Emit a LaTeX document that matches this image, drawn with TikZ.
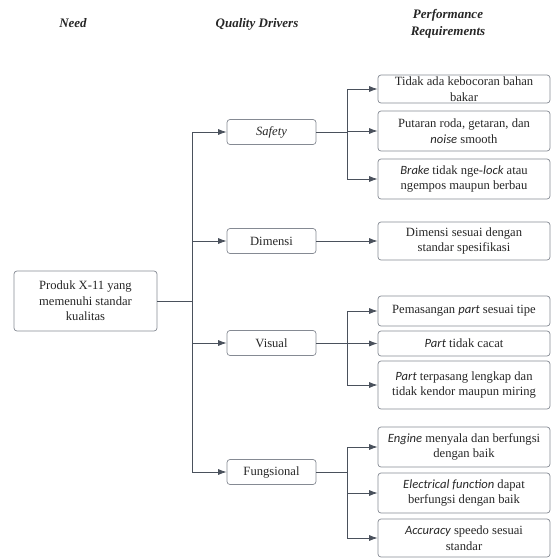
\documentclass[tikz,border=0pt]{standalone}
\usepackage{fontspec}
\setmainfont{Liberation Serif}
\newfontfamily\calibrifont{Carlito}
\usetikzlibrary{arrows.meta}
\definecolor{linegray}{HTML}{4A515C}
\definecolor{boxgray}{HTML}{858A93}
\definecolor{textgray}{HTML}{262626}
\newcommand{\emc}[1]{{\calibrifont\itshape #1}}

\begin{document}
\begin{tikzpicture}[
  x=1pt, y=-1pt,
  font=\fontsize{12.6}{15.5}\selectfont,
  head/.style={font=\fontsize{13}{17}\selectfont\bfseries\itshape, align=center, text=textgray},
  box/.style={
    draw=boxgray, rounded corners=3pt, line width=0.7pt,
    align=center, inner sep=1pt, text=textgray
  },
  need/.style={box, minimum width=143pt, minimum height=60pt},
  driver/.style={box, minimum width=89pt, minimum height=25pt},
  req/.style={box, minimum width=172pt},
  link/.style={draw=linegray, line width=0.85pt},
  arrow/.style={link, -{Latex[length=8.5pt,width=6pt]}}
]
  \useasboundingbox (0,0) rectangle (552,558);
  % headers
  \node[head] (hneed) at (73,23) {Need};
  \node[head] (hdrivers) at (257,24) {Quality Drivers};
  \node[head] (hreq) at (448,24) {Performance\\Requirements};
  % need and quality drivers
  \node[need] (produk) at (85.5,301) {Produk X-11 yang\\memenuhi standar\\kualitas};
  \node[driver] (safety) at (271.5,132) {\textit{Safety}};
  \node[driver] (dimensi) at (271.5,241) {Dimensi};
  \node[driver] (visual) at (271.5,343) {Visual};
  \node[driver] (fungsi) at (271.5,472) {Fungsional};
  % performance requirements
  \node[req, minimum height=28pt] (bocor) at (464,89) {Tidak ada kebocoran bahan\\bakar};
  \node[req, minimum height=40pt] (putaran) at (464,131) {Putaran roda, getaran, dan\\\emc{noise} smooth};
  \node[req, minimum height=40pt] (brake) at (464,179) {\emc{Brake} tidak nge-\emc{lock} atau\\ngempos maupun berbau};
  \node[req, minimum height=38pt] (ukuran) at (464,241) {Dimensi sesuai dengan\\standar spesifikasi};
  \node[req, minimum height=30pt] (pasang) at (464,311) {Pemasangan \emc{part} sesuai tipe};
  \node[req, minimum height=25pt] (cacat) at (464,343.5) {\emc{Part} tidak cacat};
  \node[req, minimum height=48pt] (lengkap) at (464,385) {\emc{Part} terpasang lengkap dan\\tidak kendor maupun miring};
  \node[req, minimum height=40pt] (engine) at (464,447) {\emc{Engine} menyala dan berfungsi\\dengan baik};
  \node[req, minimum height=40pt] (listrik) at (464,493) {\emc{Electrical function} dapat\\berfungsi dengan baik};
  \node[req, minimum height=38pt] (speedo) at (464,538) {\emc{Accuracy} speedo sesuai\\standar};
  % junctions
  \coordinate (trunk) at (192,301);
  \coordinate (jsafety) at (347,132);
  \coordinate (jvisual) at (347,343);
  \coordinate (jfungsi) at (347,472);
  % connectors
  \draw[link] (produk.east) -- (trunk);
  \draw[arrow] (trunk) |- (safety.west);
  \draw[arrow] (trunk) |- (dimensi.west);
  \draw[arrow] (trunk) |- (visual.west);
  \draw[arrow] (trunk) |- (fungsi.west);
  \draw[link] (safety.east) -- (jsafety);
  \draw[arrow] (jsafety) |- (bocor.west);
  \draw[arrow] (jsafety) |- (putaran.west);
  \draw[arrow] (jsafety) |- (brake.west);
  \draw[arrow] (dimensi.east) -- (ukuran.west);
  \draw[link] (visual.east) -- (jvisual);
  \draw[arrow] (jvisual) |- (pasang.west);
  \draw[arrow] (jvisual) |- (cacat.west);
  \draw[arrow] (jvisual) |- (lengkap.west);
  \draw[link] (fungsi.east) -- (jfungsi);
  \draw[arrow] (jfungsi) |- (engine.west);
  \draw[arrow] (jfungsi) |- (listrik.west);
  \draw[arrow] (jfungsi) |- (speedo.west);
\end{tikzpicture}
\end{document}
